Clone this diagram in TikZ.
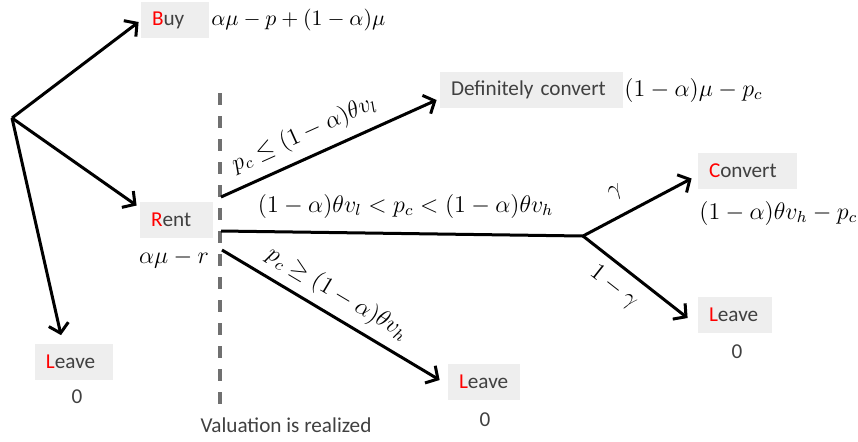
\documentclass[tikz,border=0pt]{standalone}
\usepackage{amsmath}
\usepackage{amssymb}
\usepackage{fontspec}
\usepackage{xcolor}
\usetikzlibrary{arrows.meta}
\setsansfont{Carlito}
\definecolor{boxgray}{RGB}{238,238,238}
\definecolor{txtgray}{RGB}{64,64,64}
\definecolor{dashgray}{RGB}{112,112,112}
\tikzset{
  choice/.style={fill=boxgray,text=txtgray,font=\sffamily\fontsize{10.6}{12}\selectfont,
    inner xsep=5.5pt,minimum height=18pt,align=left},
  payoff/.style={font=\fontsize{12}{14}\selectfont,inner sep=0pt},
  plain/.style={text=txtgray,font=\sffamily\fontsize{10.6}{12}\selectfont},
  move/.style={line width=1.5pt,-{Straight Barb[length=4.5pt,width=10pt]}},
}

\begin{document}
\begin{tikzpicture}[x=0.5pt,y=-0.5pt]
\useasboundingbox (0,0) rectangle (858,441);
\coordinate (root) at (12,118);
\coordinate (up) at (221,197);
\coordinate (mid) at (221,231);
\coordinate (low) at (222,250);
\coordinate (split) at (583,236);
\coordinate (valtop) at (220,93);

% first stage
\node[choice,text width=23pt] (buy) at (175,20) {\textcolor{red}{B}uy};
\node[choice,text width=25.5pt] (rent) at (176.5,219.5) {\textcolor{red}{R}ent};
\node[choice,text width=28pt] (leaveA) at (74,361.5) {\textcolor{red}{L}eave};
\node[plain] (zeroA) at (77,397) {0};
\node[payoff,anchor=west,font=\fontsize{11.2}{13}\selectfont] (buypay) at (211,20) {$\alpha\mu-p+(1-\alpha)\mu$};

\draw[move] (root) -- ([xshift=-1pt,yshift=-1pt]buy.west);
\draw[move] (root) -- ([xshift=-1.5pt,yshift=7pt]rent.west);
\draw[move] (root) -- ([xshift=-6.5pt,yshift=4pt]leaveA.north);

% valuation line
\node[plain] (val) at (286,425) {Valuation is realized};
\draw[dashgray,line width=1.6pt,dash pattern=on 6pt off 5.5pt] (valtop) -- (220,407);
\node[payoff,fill=white,inner xsep=2pt,inner ysep=5pt] (rentpay) at (174,259) {$\alpha\mu-r$};

% second stage
\node[choice,text width=80.5pt] (defconv) at (531.5,90) {Definitely convert};
\node[payoff,anchor=west] (defpay) at (624,90) {$(1-\alpha)\mu-p_c$};
\node[choice,text width=38.5pt] (conv) at (747.5,170.5) {\textcolor{red}{C}onvert};
\node[payoff,anchor=west] (convpay) at (699,213) {$(1-\alpha)\theta v_h-p_c$};
\node[choice,text width=26pt] (leaveB) at (735,315) {\textcolor{red}{L}eave};
\node[plain] (zeroB) at (737,352) {0};
\node[choice,text width=25pt] (leaveC) at (484,381.5) {\textcolor{red}{L}eave};
\node[plain] (zeroC) at (485,420) {0};

\draw[move] (up) -- ([xshift=-1.5pt,yshift=-5pt]defconv.west)
  node[payoff,pos=0.43,sloped,above=5pt] {$p_c\leq(1-\alpha)\theta v_l$};
\draw[line width=1.5pt] (mid) -- (split)
  node[payoff,pos=0.51,above=7pt] {$(1-\alpha)\theta v_l<p_c<(1-\alpha)\theta v_h$};
\draw[move] (low) -- ([xshift=-4pt,yshift=0.75pt]leaveC.west)
  node[payoff,pos=0.48,sloped,above=4pt] {$p_c\geq(1-\alpha)\theta v_h$};
\draw[move] (split) -- ([xshift=-3pt,yshift=-4pt]conv.west)
  node[payoff,pos=0.4,sloped,above=7pt] {$\gamma$};
\draw[move] (split) -- ([xshift=-5pt,yshift=-1.5pt]leaveB.west)
  node[payoff,pos=0.42,sloped,below=5pt] {$1-\gamma$};
\end{tikzpicture}
\end{document}
